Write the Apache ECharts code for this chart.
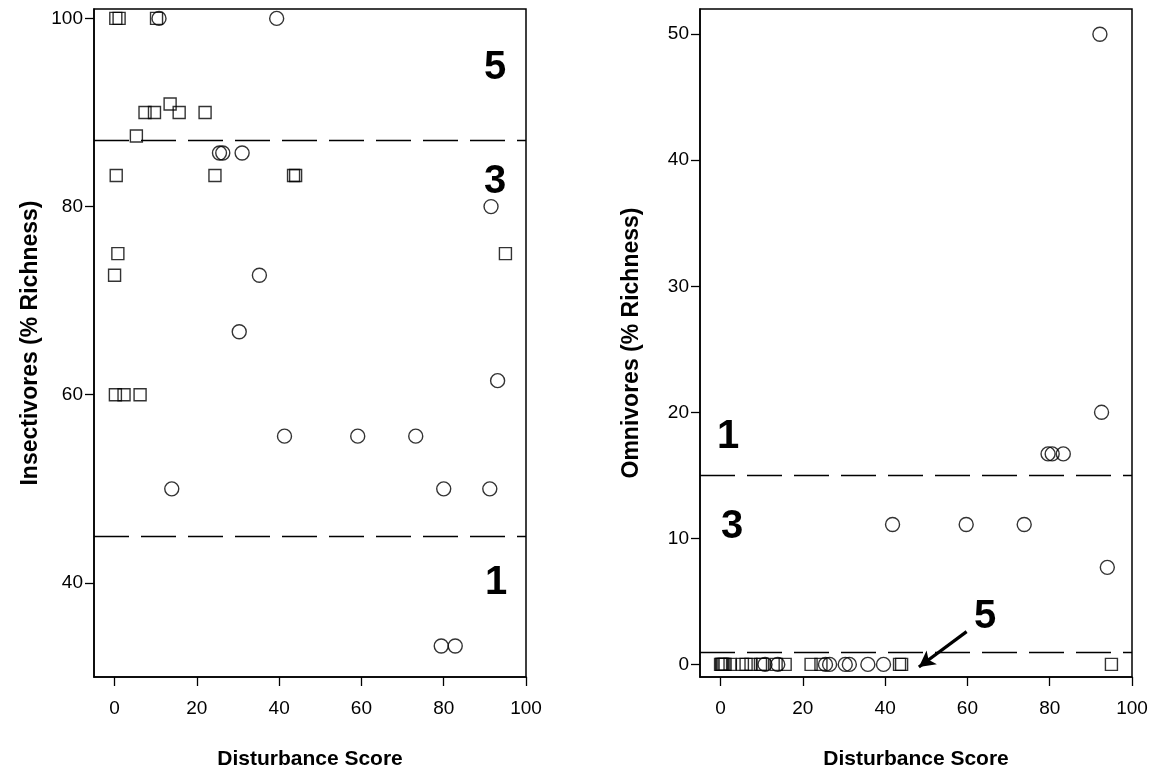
<!DOCTYPE html>
<html>
<head>
<meta charset="utf-8">
<script src="https://cdn.jsdelivr.net/npm/echarts@6/dist/echarts.min.js"></script>
<style>html,body{margin:0;padding:0;background:#fff}#c{width:1159px;height:779px}</style>
</head>
<body>
<div id="c"></div>
<script>
// ---- data ----
const xTicks = [0, 20, 40, 60, 80, 100];
const leftYTicks = [40, 60, 80, 100];
const rightYTicks = [0, 10, 20, 30, 40, 50];

// Insectivores (% richness) vs disturbance score
const insectSquares = [
  [0.3, 100], [1.1, 100], [10.2, 100],
  [7.4, 90], [9.7, 90], [13.5, 90.9], [15.7, 90], [22, 90],
  [5.3, 87.5],
  [0.4, 83.3], [24.4, 83.3], [43.5, 83.3], [44, 83.3],
  [0.8, 75], [0, 72.7], [95, 75],
  [0.2, 60], [2.3, 60], [6.2, 60]
];
const insectCircles = [
  [10.8, 100], [39.4, 100],
  [25.5, 85.7], [26.3, 85.7], [31, 85.7],
  [35.2, 72.7], [30.3, 66.7],
  [13.9, 50], [41.3, 55.6], [59.1, 55.6], [73.2, 55.6],
  [80, 50], [91.2, 50], [91.5, 80], [93.1, 61.5],
  [79.4, 33.3], [82.8, 33.3]
];

// Omnivores (% richness) vs disturbance score
const omniSquares = [
  [0, 0], [0.3, 0], [0.4, 0], [0.8, 0], [1.1, 0], [2.3, 0], [5.3, 0], [6.2, 0],
  [7.4, 0], [9.7, 0], [10.2, 0], [13.5, 0], [15.7, 0], [22, 0], [24.4, 0],
  [43.5, 0], [44, 0], [95, 0]
];
const omniCircles = [
  [10.8, 0], [13.9, 0], [25.5, 0], [26.5, 0], [30.3, 0], [31.3, 0], [35.8, 0], [39.6, 0],
  [41.8, 11.1], [59.7, 11.1], [73.8, 11.1],
  [79.6, 16.7], [80.6, 16.7], [83.3, 16.7],
  [92.2, 50], [92.6, 20], [94, 7.7]
];

const leftThresholds = [87, 45];
const rightThresholds = [15, 1];
const arrowFrom = [59.8, 2.6];
const arrowTo = [48.2, -0.2];

// ---- styles ----
const FONT = '"Liberation Sans", Arial, sans-serif';
const markerStyle = { color: 'rgba(0,0,0,0)', borderColor: '#000', borderWidth: 1.4 };

function xAxisDef(idx) {
  return {
    gridIndex: idx, type: 'value', min: -5, max: 100,
    name: 'Disturbance Score', nameLocation: 'middle', nameGap: 72,
    nameTextStyle: { fontFamily: FONT, fontWeight: 'bold', fontSize: 21, color: '#000' },
    axisLine: { show: true, onZero: false, lineStyle: { color: '#000', width: 1.5 } },
    axisTick: { show: true, length: 9, customValues: xTicks, lineStyle: { color: '#000', width: 1.3 } },
    axisLabel: { customValues: xTicks, fontFamily: FONT, fontSize: 19, color: '#000', margin: 22 },
    splitLine: { show: false }
  };
}
function yAxisDef(idx, min, max, ticks, name, gap) {
  return {
    gridIndex: idx, type: 'value', min: min, max: max,
    name: name, nameLocation: 'middle', nameGap: gap,
    nameTextStyle: { fontFamily: FONT, fontWeight: 'bold', fontSize: 23, color: '#000' },
    axisLine: { show: true, onZero: false, lineStyle: { color: '#000', width: 1.5 } },
    axisTick: { show: true, length: 9, customValues: ticks, lineStyle: { color: '#000', width: 1.3 } },
    axisLabel: { customValues: ticks, fontFamily: FONT, fontSize: 19, color: '#000', margin: 11 },
    splitLine: { show: false }
  };
}
function thresholdLines(vals) {
  return {
    silent: true, symbol: ['none', 'none'], label: { show: false },
    lineStyle: { color: '#000', type: [35, 12], width: 1.4 },
    data: vals.map(v => ({ yAxis: v }))
  };
}
function bigText(x, y, t) {
  return { type: 'text', left: x, top: y, style: { text: t, font: 'bold 40px ' + FONT, fill: '#000' } };
}

const chart = echarts.init(document.getElementById('c'), null, { renderer: 'canvas' });
chart.setOption({
  animation: false,
  backgroundColor: '#fff',
  grid: [
    { left: 94, top: 9, width: 432, height: 668, show: true, borderColor: '#000', borderWidth: 1.5, backgroundColor: 'transparent' },
    { left: 700, top: 9, width: 432, height: 668, show: true, borderColor: '#000', borderWidth: 1.5, backgroundColor: 'transparent' }
  ],
  xAxis: [xAxisDef(0), xAxisDef(1)],
  yAxis: [
    yAxisDef(0, 30, 101, leftYTicks, 'Insectivores (% Richness)', 52),
    yAxisDef(1, -1, 52, rightYTicks, 'Omnivores (% Richness)', 57)
  ],
  series: [
    { type: 'scatter', xAxisIndex: 0, yAxisIndex: 0, symbol: 'circle', symbolSize: 14, itemStyle: markerStyle, data: insectCircles,
      markLine: thresholdLines(leftThresholds) },
    { type: 'scatter', xAxisIndex: 0, yAxisIndex: 0, symbol: 'rect', symbolSize: 12, itemStyle: markerStyle, data: insectSquares },
    { type: 'scatter', xAxisIndex: 1, yAxisIndex: 1, symbol: 'circle', symbolSize: 14, itemStyle: markerStyle, data: omniCircles,
      markLine: thresholdLines(rightThresholds) },
    { type: 'scatter', xAxisIndex: 1, yAxisIndex: 1, symbol: 'rect', symbolSize: 12, itemStyle: markerStyle, data: omniSquares,
      markLine: {
        silent: true, symbol: ['none', 'arrow'], symbolSize: [13, 16], label: { show: false },
        lineStyle: { color: '#000', type: 'solid', width: 3.2 },
        data: [[{ coord: arrowFrom }, { coord: arrowTo }]]
      } }
  ],
  graphic: [
    bigText(484, 48, '5'),
    bigText(484, 162, '3'),
    bigText(485, 563, '1'),
    bigText(717, 417, '1'),
    bigText(721, 507, '3'),
    bigText(974, 597, '5')
  ]
});
</script>
</body>
</html>
